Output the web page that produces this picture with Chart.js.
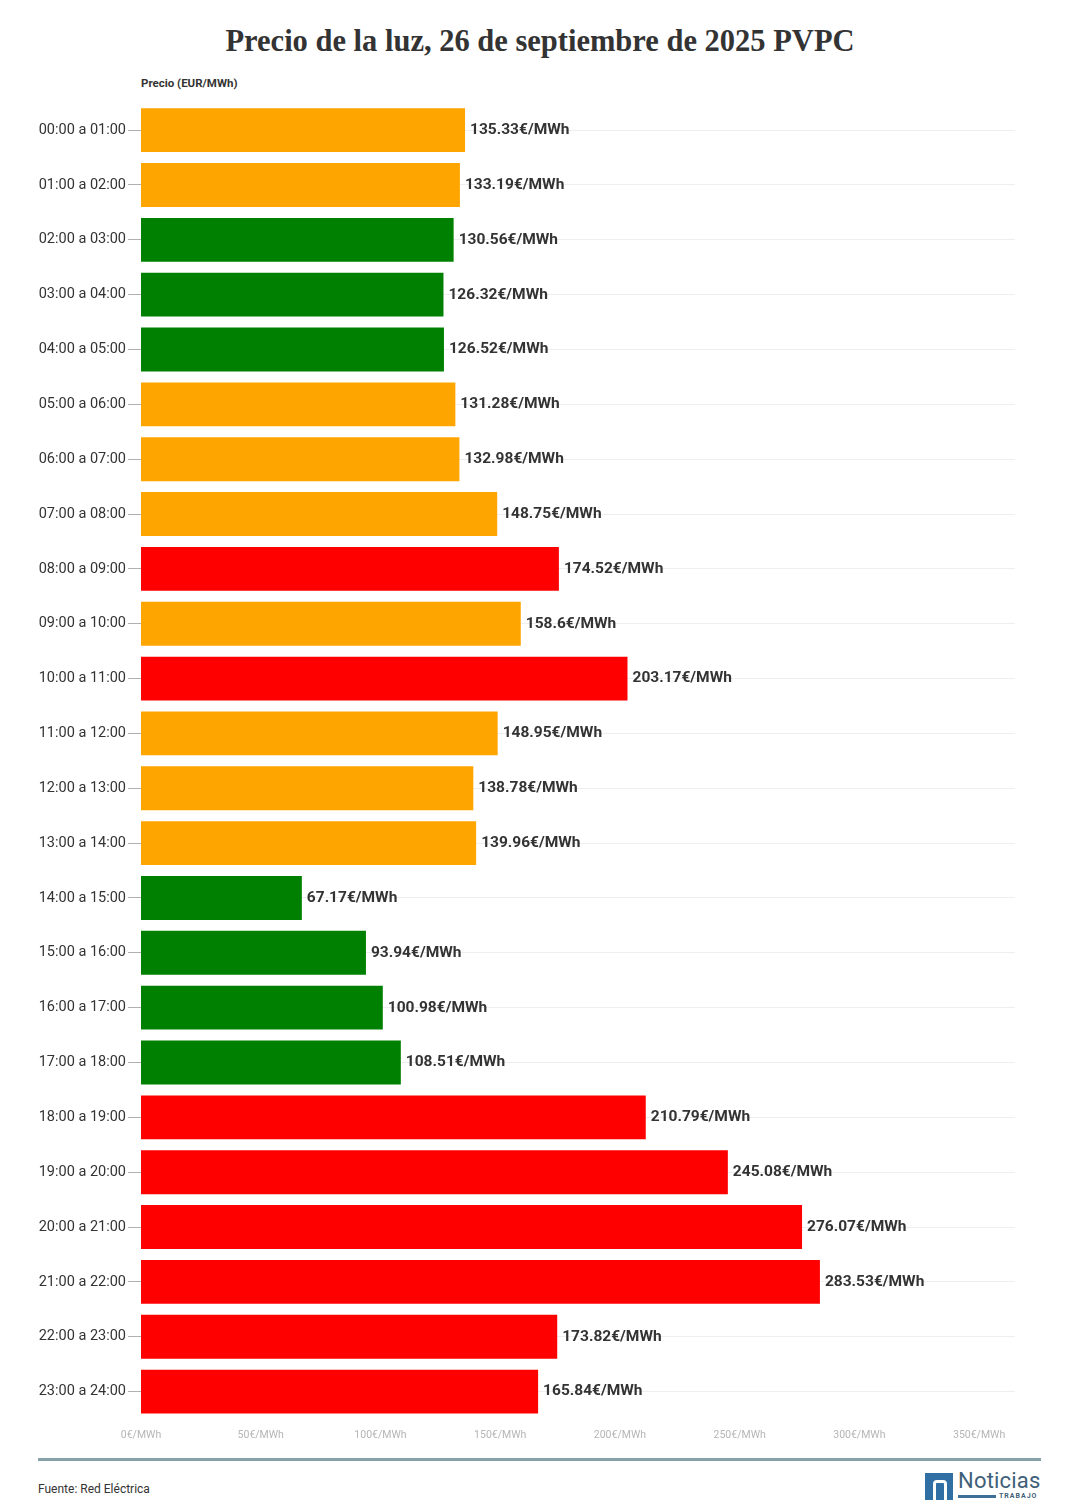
<!DOCTYPE html>
<html lang="es">
<head>
<meta charset="utf-8">
<title>Precio de la luz PVPC</title>
<script src="https://cdn.jsdelivr.net/npm/chart.js@4/dist/chart.umd.min.js"></script>
<style>
  html, body { margin: 0; padding: 0; background: #fff; }
  body { width: 1080px; height: 1510px; position: relative; overflow: hidden; font-family: Roboto, sans-serif; }
  #title { position: absolute; top: 24px; left: 0; width: 1080px; text-align: center;
           font-family: "Liberation Serif", serif; font-weight: bold; font-size: 30.5px; color: #333; }
  #axis-title { position: absolute; top: 76px; left: 141px; font-size: 11.5px; font-weight: bold; color: #333; }
  #wrap { position: absolute; top: 92px; left: 0; width: 1080px; height: 1357px; }
  #rule { position: absolute; top: 1458px; left: 38px; width: 1003px; height: 3px; background: #87a1a8; }
  #source { position: absolute; top: 1482px; left: 38px; font-size: 12px; color: #333; }
  #logo { position: absolute; top: 1470px; left: 925px; width: 120px; height: 32px; }
  #logo .box { position: absolute; left: 0; top: 3px; width: 28px; height: 27px; background: #2f6fa3; }
  #logo .box::after { content: ""; position: absolute; left: 8px; top: 7px; width: 8px; height: 20px;
                      border: 3px solid #fff; border-bottom: none; border-radius: 4px 4px 0 0; box-sizing: content-box; }
  #logo .name { position: absolute; left: 33px; top: -2px; font-size: 22px; color: #3f5f78; letter-spacing: 0.2px; }
  #logo .bar { position: absolute; left: 33px; top: 25px; width: 38px; height: 3px; background: #3f6f96; }
  #logo .sub { position: absolute; left: 74px; top: 22px; font-size: 7px; color: #3f5f78; letter-spacing: 1px; font-weight: bold; }
</style>
</head>
<body>
<div id="title">Precio de la luz, 26 de septiembre de 2025 PVPC</div>
<div id="axis-title">Precio (EUR/MWh)</div>
<div id="wrap"><canvas id="chart"></canvas></div>
<div id="rule"></div>
<div id="source">Fuente: Red Eléctrica</div>
<div id="logo"><div class="box"></div><div class="name">Noticias</div><div class="bar"></div><div class="sub">TRABAJO</div></div>

<script>
// Horas del día (categorías)
const HOURS = [
  '00:00 a 01:00', '01:00 a 02:00', '02:00 a 03:00', '03:00 a 04:00',
  '04:00 a 05:00', '05:00 a 06:00', '06:00 a 07:00', '07:00 a 08:00',
  '08:00 a 09:00', '09:00 a 10:00', '10:00 a 11:00', '11:00 a 12:00',
  '12:00 a 13:00', '13:00 a 14:00', '14:00 a 15:00', '15:00 a 16:00',
  '16:00 a 17:00', '17:00 a 18:00', '18:00 a 19:00', '19:00 a 20:00',
  '20:00 a 21:00', '21:00 a 22:00', '22:00 a 23:00', '23:00 a 24:00'
];

// Precio €/MWh por hora
const PRICES = [
  135.33, 133.19, 130.56, 126.32, 126.52, 131.28, 132.98, 148.75,
  174.52, 158.6, 203.17, 148.95, 138.78, 139.96, 67.17, 93.94,
  100.98, 108.51, 210.79, 245.08, 276.07, 283.53, 173.82, 165.84
];

// Tramo de cada hora: 'llano', 'valle', 'punta'
const TRAMOS = [
  'llano', 'llano', 'valle', 'valle', 'valle', 'llano', 'llano', 'llano',
  'punta', 'llano', 'punta', 'llano', 'llano', 'llano', 'valle', 'valle',
  'valle', 'valle', 'punta', 'punta', 'punta', 'punta', 'punta', 'punta'
];

const X_TICKS = [0, 50, 100, 150, 200, 250, 300, 350];

const TRAMO_COLORS = { llano: '#ffa500', valle: '#008000', punta: '#ff0000' };

// draws "135.33€/MWh" at the end of each bar
const valueLabels = {
  id: 'valueLabels',
  afterDatasetsDraw(chart) {
    const ctx = chart.ctx;
    const meta = chart.getDatasetMeta(0);
    ctx.save();
    ctx.font = 'bold 15.5px Roboto, sans-serif';
    ctx.fillStyle = '#333';
    ctx.textAlign = 'left';
    ctx.textBaseline = 'middle';
    meta.data.forEach((bar, i) => {
      ctx.fillText(PRICES[i] + '€/MWh', bar.x + 5, bar.y);
    });
    ctx.restore();
  }
};

new Chart(document.getElementById('chart'), {
  type: 'bar',
  data: {
    labels: HOURS,
    datasets: [{
      data: PRICES,
      backgroundColor: TRAMOS.map(t => TRAMO_COLORS[t]),
      borderWidth: 0,
      categoryPercentage: 1,
      barPercentage: 0.8,
    }]
  },
  options: {
    indexAxis: 'y',
    responsive: true,
    maintainAspectRatio: false,
    animation: false,
    layout: { padding: { top: 6, right: 65, left: 0, bottom: 0 } },
    plugins: {
      legend: { display: false },
      tooltip: { enabled: false },
    },
    scales: {
      x: {
        min: 0,
        max: 365,
        afterBuildTicks: scale => { scale.ticks = X_TICKS.map(v => ({ value: v })); },
        afterFit: scale => { scale.height = 30; },
        grid: { display: false },
        border: { display: false },
        ticks: {
          padding: 2,
          color: '#b5b5b5',
          font: { family: 'Roboto', size: 10.5 },
          callback: v => v + '€/MWh',
        },
      },
      y: {
        afterFit: scale => { scale.width = 141; },
        grid: {
          offset: false,
          color: '#eeeeee',
          tickColor: '#b0b0b0',
          tickLength: 13,
          lineWidth: 1,
        },
        border: { display: false },
        ticks: {
          padding: 2,
          color: '#333',
          font: { family: 'Roboto', size: 14.5 },
        },
      },
    },
  },
  plugins: [valueLabels],
});
</script>
</body>
</html>
